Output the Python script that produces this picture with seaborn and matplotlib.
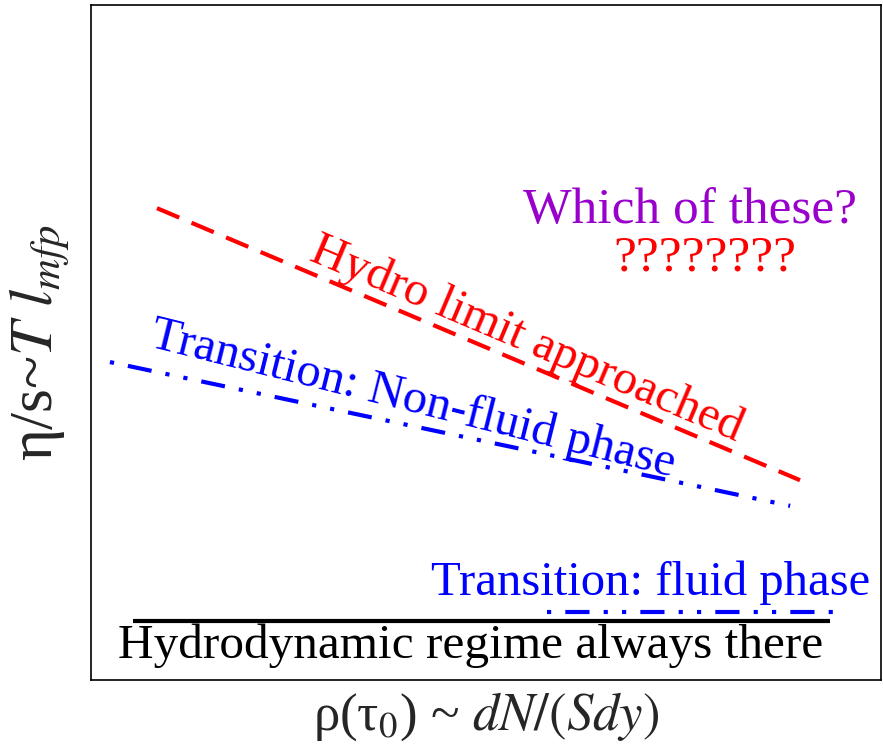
import matplotlib
matplotlib.use("Agg")
import matplotlib.pyplot as plt
import seaborn as sns

# Schematic lines (x ~ density, y ~ eta/s) in arbitrary units
hydro_x = [0.835, 8.975]
hydro_y = [6.99, 2.96]
nonfluid_x = [0.24, 8.85]
nonfluid_y = [4.71, 2.58]
fluid_x = [5.77, 9.44]
fluid_y = [1.01, 1.01]
regime_x = [0.53, 9.35]
regime_y = [0.87, 0.87]

sns.set_theme(style="white")
plt.rcParams["font.family"] = ["Liberation Serif", "DejaVu Serif"]
plt.rcParams["mathtext.fontset"] = "stix"

fig = plt.figure(figsize=(8.83, 7.48), dpi=100)
ax = fig.add_axes([91 / 883, 68 / 748, 790 / 883, 675 / 748])

lw = 3.0
dash_dot_dot = (13.6, (5.8, 3.4, 1, 3.4, 1, 3.4))
sns.lineplot(x=hydro_x, y=hydro_y, ax=ax, color="#ff0000", lw=lw,
             estimator=None)
ax.lines[-1].set_linestyle((0, (5.8, 3.2)))
sns.lineplot(x=nonfluid_x, y=nonfluid_y, ax=ax, color="#0000ff", lw=lw,
             estimator=None)
ax.lines[-1].set_linestyle(dash_dot_dot)
sns.lineplot(x=fluid_x, y=fluid_y, ax=ax, color="#0000ff", lw=lw,
             estimator=None)
ax.lines[-1].set_linestyle(dash_dot_dot)
sns.lineplot(x=regime_x, y=regime_y, ax=ax, color="black", lw=lw,
             estimator=None)
for ln in ax.lines:
    ln.set_dash_capstyle("butt")
    ln.set_solid_capstyle("butt")

ax.text(7.58, 6.77, "Which of these?", color="#9900cc", fontsize=37,
        ha="center", va="baseline")
ax.text(7.77, 6.06, "????????", color="#ff0000", fontsize=37,
        ha="center", va="baseline")
ax.text(5.52, 5.04, "Hydro limit approached", color="#ff0000", fontsize=35,
        ha="center", va="center", rotation=-23, rotation_mode="anchor")
ax.text(4.08, 4.15, "Transition: Non-fluid phase", color="#0000ff",
        fontsize=35, ha="center", va="center", rotation=-14,
        rotation_mode="anchor")
ax.text(7.08, 1.26, "Transition: fluid phase", color="#0000ff", fontsize=35,
        ha="center", va="baseline")
ax.text(4.80, 0.326, "Hydrodynamic regime always there", color="black",
        fontsize=35.5, ha="center", va="baseline")

ax.set_xlim(0, 10)
ax.set_ylim(0, 10)
ax.set_xticks([])
ax.set_yticks([])
for sp in ax.spines.values():
    sp.set_color("black")
    sp.set_linewidth(1.2)

ax.set_xlabel(r"ρ(τ$_0$) ~ $dN/(Sdy)$", fontsize=38)
ax.xaxis.set_label_coords(0.5, -0.015, transform=ax.transAxes)
ax.xaxis.label.set_va("top")
ax.set_ylabel(r"η/s~$T\ l_{mfp}$", fontsize=44)
ax.yaxis.set_label_coords(-0.066, 0.5, transform=ax.transAxes)
ax.yaxis.label.set_va("center")

fig.savefig("out.png", dpi=100)
